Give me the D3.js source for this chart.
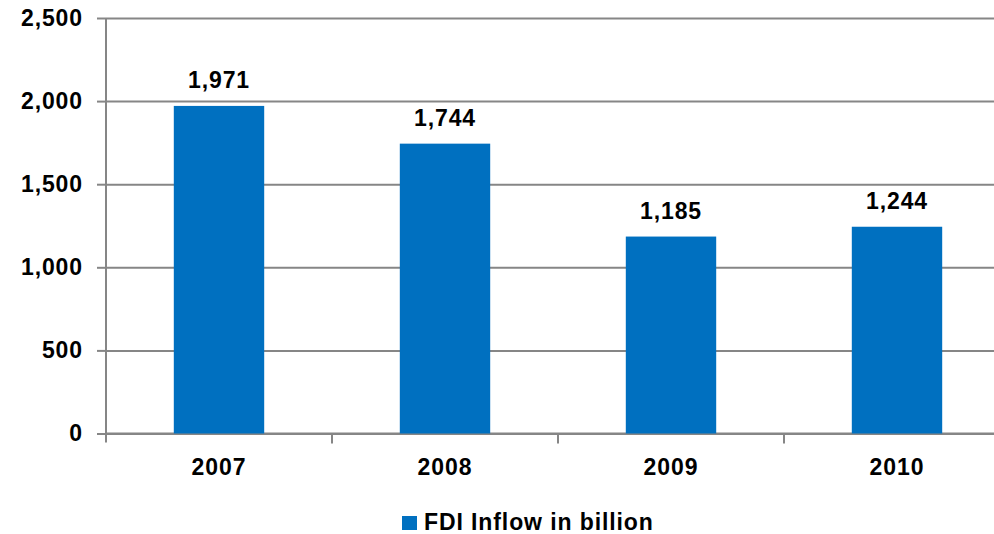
<!DOCTYPE html>
<html><head><meta charset="utf-8">
<script src="https://cdn.jsdelivr.net/npm/d3@7"></script>
<style>html,body{margin:0;padding:0;background:#fff;overflow:hidden}svg{display:block}</style>
</head><body>
<script>
const categories = ["2007", "2008", "2009", "2010"];
const values = [1971, 1744, 1185, 1244];
const yTicks = [0, 500, 1000, 1500, 2000, 2500];
const seriesName = "FDI Inflow in billion";

const W = 994, H = 534;
const svg = d3.select("body").append("svg").attr("width", W).attr("height", H);
const font = "'Liberation Sans', Arial, sans-serif";
const fs = 23, ls = 0.9;

function styleText(sel) {
  sel.attr("font-family", font).attr("font-size", fs).attr("font-weight", "bold")
     .attr("letter-spacing", ls).attr("fill", "#000");
}

const x0 = 106, x1 = 1010, yTop = 18, yBot = 433.5;
const x = d3.scaleBand().domain(categories).range([x0, x1]).paddingInner(0.6).paddingOuter(0.3);
const y = d3.scaleLinear().domain([0, 2500]).range([yBot, yTop]);

// gridlines
const grid = svg.append("g")
  .attr("transform", `translate(${x0},0)`)
  .call(d3.axisLeft(y).tickValues(yTicks).tickSize(-(W - x0)).tickFormat(""));
grid.select(".domain").remove();
grid.selectAll("line").attr("stroke", "#868686").attr("stroke-width", 2);

// y axis
const ya = svg.append("g").attr("transform", `translate(${x0},0)`)
  .call(d3.axisLeft(y).tickValues(yTicks).tickSize(9).tickPadding(14).tickFormat(d3.format(",")));
ya.select(".domain").attr("stroke", "#868686").attr("stroke-width", 2).attr("d", `M0,${yTop}V${yBot + 9}`);
ya.selectAll("line").attr("stroke", "#868686").attr("stroke-width", 2);
styleText(ya.selectAll("text"));

// x axis
const step = x.step();
const xa = svg.append("g").attr("transform", `translate(0,${yBot})`)
  .call(d3.axisBottom(x).tickSize(0).tickPadding(25));
xa.select(".domain").attr("stroke", "#868686").attr("stroke-width", 2).attr("d", `M${x0},0H${W}`);
styleText(xa.selectAll("text"));
// category separator ticks
svg.append("g").selectAll("line").data(categories.slice(1)).join("line")
  .attr("x1", d => x(d) - (step - x.bandwidth()) / 2)
  .attr("x2", d => x(d) - (step - x.bandwidth()) / 2)
  .attr("y1", yBot).attr("y2", yBot + 10)
  .attr("stroke", "#868686").attr("stroke-width", 2);

// bars
svg.append("g").selectAll("rect").data(values).join("rect")
  .attr("x", (d, i) => x(categories[i]))
  .attr("width", x.bandwidth())
  .attr("y", d => y(d))
  .attr("height", d => y(0) - y(d))
  .attr("fill", "#0070c0");

// data labels
styleText(svg.append("g").selectAll("text").data(values).join("text")
  .attr("x", (d, i) => x(categories[i]) + x.bandwidth() / 2)
  .attr("y", d => y(d) - 18)
  .attr("text-anchor", "middle")
  .text(d => d3.format(",")(d)));

// legend
const lg = svg.append("g");
lg.append("rect").attr("x", 402).attr("y", 516).attr("width", 15).attr("height", 14).attr("fill", "#0070c0");
styleText(lg.append("text").attr("x", 424).attr("y", 530).text(seriesName));
</script>
</body></html>
